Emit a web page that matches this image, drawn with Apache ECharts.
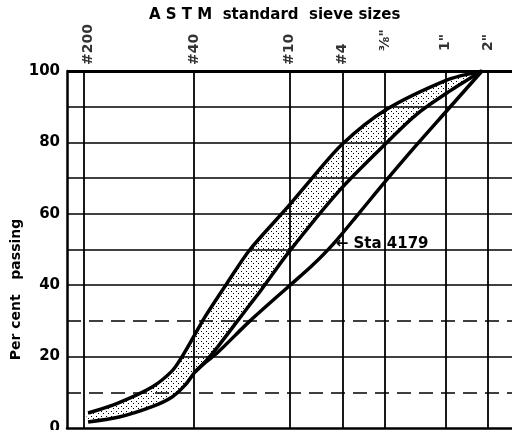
<!DOCTYPE html>
<html>
<head>
<meta charset="utf-8">
<script src="https://cdn.jsdelivr.net/npm/echarts@6/dist/echarts.min.js"></script>
<style>
html,body{margin:0;padding:0;background:#fff}
#chart{width:512px;height:430px}
</style>
</head>
<body>
<div id="chart"></div>
<script>
// sieve openings (mm) and their labels along the top
const sieveSizes = [0.075, 0.425, 2.0, 4.75, 9.5, 25.4, 50.8]
const sieveLabels = ['#200', '#40', '#10', '#4', '⅜"', '1"', '2"']
// horizontal rules (per cent)
const solidRules = [20, 40, 50, 60, 70, 80, 90]
const dashedRules = [10, 30]

// upper limit of the band
const upperSize = [0.075, 0.122, 0.213, 0.295, 0.347, 0.429, 0.505, 0.72, 1.05, 1.95, 2.89, 4.71, 9.49, 26.1, 42.5, 46]
const upperPct = [4.2, 7, 11.5, 16, 20, 26.3, 31.2, 40.5, 50, 62, 70, 79.5, 89, 97.5, 99.7, 100]
// lower limit of the band
const lowerSize = [0.075, 0.122, 0.213, 0.295, 0.364, 0.429, 0.505, 0.614, 1.05, 1.24, 1.95, 4.5, 9.49, 16, 27.5, 46]
const lowerPct = [1.7, 3, 6, 8.7, 12, 15.7, 18.5, 22.5, 34.6, 38.3, 49, 66.5, 79.5, 88, 94.5, 100]
// Sta 4179
const staSize = [0.429, 0.505, 0.614, 1.05, 1.95, 2.89, 4.07, 6.3, 9.49, 16, 26.1, 46]
const staPct = [15.7, 18.3, 21, 30, 39.5, 45.5, 51.5, 60.5, 69, 79.5, 89, 100]

const pairs=(xs,ys)=>xs.map((x,i)=>[x,ys[i]])
const upper=pairs(upperSize,upperPct), lower=pairs(lowerSize,lowerPct), sta=pairs(staSize,staPct)

// stipple for the band
const dots=document.createElement('canvas')
dots.width=5;dots.height=5
const dc=dots.getContext('2d')
dc.fillStyle='#fff';dc.fillRect(0,0,5,5)
dc.fillStyle='#000';dc.fillRect(1,1,1,1);dc.fillRect(3,3,1,1)

const font='"DejaVu Sans", sans-serif'
const chart=echarts.init(document.getElementById('chart'))
const curve=(data)=>({
	type:'line',data,smooth:0.3,symbol:'none',z:4,
	lineStyle:{color:'#000',width:3.5}
})
chart.setOption({
	animation:false,
	backgroundColor:'#fff',
	title:{
		text:'A S T M  standard  sieve sizes',left:144,top:3,
		textStyle:{fontFamily:font,fontWeight:'bold',fontSize:15,color:'#000'}
	},
	grid:{left:67,right:0,top:71,bottom:2,outerBoundsMode:'none'},
	xAxis:{
		type:'log',logBase:10,min:0.0532,max:75,
		axisLine:{show:true,lineStyle:{color:'#000',width:2.5}},
		axisTick:{show:false},axisLabel:{show:false},splitLine:{show:false}
	},
	yAxis:{
		type:'value',min:0,max:100,interval:20,
		name:'Per cent   passing',nameLocation:'middle',nameGap:44,nameMoveOverlap:false,
		nameTextStyle:{fontFamily:font,fontWeight:'bold',fontSize:14,color:'#000',padding:[0,80,0,0]},
		axisLine:{show:true,lineStyle:{color:'#000',width:2.5}},
		axisTick:{show:false},splitLine:{show:false},
		axisLabel:{fontFamily:font,fontWeight:'bold',fontSize:15,color:'#000',margin:7}
	},
	series:[
		{
			// grid rules
			type:'line',data:[],z:1,
			markLine:{
				silent:true,symbol:'none',label:{show:false},animation:false,
				data:[
					...sieveSizes.map(v=>({xAxis:v,lineStyle:{type:'solid',width:1.8}})),
					...solidRules.map(v=>({yAxis:v,lineStyle:{type:'solid',width:1.6}})),
					...dashedRules.map(v=>({yAxis:v,lineStyle:{type:[14,8],width:1.6}})),
					{yAxis:100,lineStyle:{type:'solid',width:3}}
				],
				lineStyle:{color:'#000'}
			}
		},
		{
			// band between the limits
			type:'custom',z:2,data:[0],
			renderItem:(params,api)=>{
				const pts=upper.concat(lower.slice().reverse()).map(p=>api.coord(p))
				return {type:'polygon',shape:{points:pts,smooth:0.3},style:{fill:{image:dots,repeat:'repeat'}}}
			}
		},
		curve(upper),
		curve(lower),
		Object.assign(curve(sta),{
			markPoint:{
				symbol:'circle',symbolSize:1,itemStyle:{color:'transparent'},
				label:{show:true,position:'right',distance:2,formatter:'← Sta 4179',
					fontFamily:font,fontWeight:'bold',fontSize:15,color:'#000'},
				data:[{coord:[4.07,51.5]}]
			}
		}),
		{
			// sieve labels
			type:'scatter',symbolSize:0,z:5,
			data:sieveSizes.map((v,i)=>({
				value:[v,100],name:sieveLabels[i],
				label:{distance:sieveLabels[i].endsWith('"')?20:6}
			})),
			label:{
				show:true,position:'top',rotate:90,align:'left',verticalAlign:'middle',
				formatter:p=>p.name,
				fontFamily:font,fontWeight:'bold',fontSize:14,color:'#000'
			}
		}
	]
})
</script>
</body>
</html>
